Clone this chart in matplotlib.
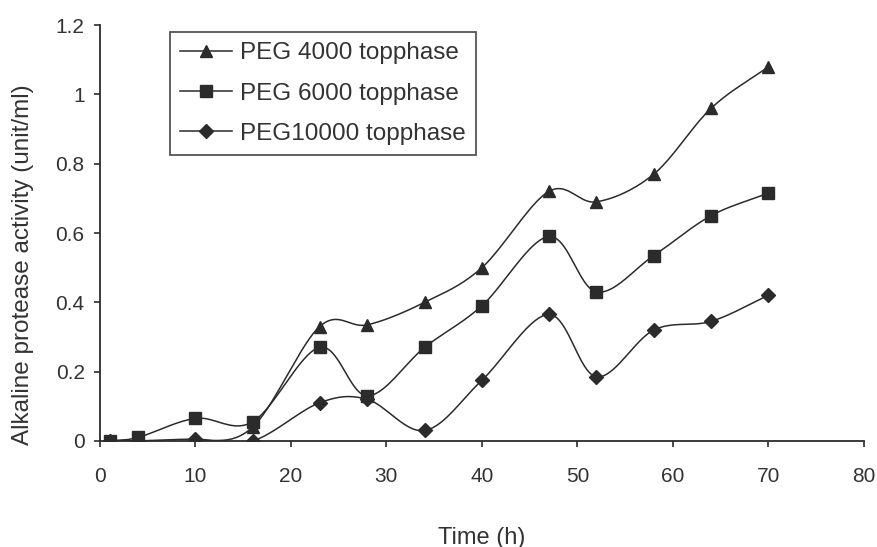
import numpy as np
import matplotlib
matplotlib.use("Agg")
import matplotlib.pyplot as plt

# sampling times (h)
time_h = [1, 4, 10, 16, 23, 28, 34, 40, 47, 52, 58, 64, 70]

# alkaline protease activity (unit/ml)
peg4000 = [0.0, 0.0, 0.0, 0.04, 0.33, 0.335, 0.40, 0.50, 0.72, 0.69, 0.77, 0.96, 1.08]
peg6000 = [0.0, 0.01, 0.065, 0.055, 0.27, 0.13, 0.27, 0.39, 0.59, 0.43, 0.535, 0.65, 0.715]
peg10000 = [0.0, 0.0, 0.005, 0.0, 0.11, 0.12, 0.03, 0.175, 0.365, 0.185, 0.32, 0.345, 0.42]

labels = ["PEG 4000 topphase", "PEG 6000 topphase", "PEG10000 topphase"]
markers = ["^", "s", "D"]
msizes = [9, 8, 7]

plt.rcParams['font.family'] = ['Liberation Sans', 'DejaVu Sans']
ink = "#2b2b2b"
txt = "#333333"


def smooth(x, y, n=20):
    # Catmull-Rom curve through the points, like Excel's smoothed line
    x = np.asarray(x, float)
    y = np.asarray(y, float)
    px = np.concatenate([[2 * x[0] - x[1]], x, [2 * x[-1] - x[-2]]])
    py = np.concatenate([[2 * y[0] - y[1]], y, [2 * y[-1] - y[-2]]])
    t = np.linspace(0, 1, n, endpoint=False)
    xs, ys = [], []
    for i in range(1, len(px) - 2):
        for arr, out in ((px, xs), (py, ys)):
            p0, p1, p2, p3 = arr[i - 1], arr[i], arr[i + 1], arr[i + 2]
            out.extend(0.5 * (2 * p1 + (-p0 + p2) * t
                              + (2 * p0 - 5 * p1 + 4 * p2 - p3) * t ** 2
                              + (-p0 + 3 * p1 - 3 * p2 + p3) * t ** 3))
    xs.append(x[-1])
    ys.append(y[-1])
    return np.array(xs), np.array(ys)


fig = plt.figure(figsize=(8.77, 5.47), dpi=100)
ax = fig.add_axes([0.114, 0.194, 0.871, 0.760])

handles = []
for ys, lab, m, ms in zip([peg4000, peg6000, peg10000], labels, markers, msizes):
    sx, sy = smooth(time_h, ys)
    ax.plot(sx, sy, color=ink, lw=1.1, zorder=2)
    ax.plot(time_h, ys, linestyle="none", marker=m, ms=ms, color=ink, zorder=3)
    h, = ax.plot([], [], color=ink, lw=1.1, marker=m, ms=ms, label=lab)
    handles.append(h)

ax.set_xlim(0, 80)
ax.set_ylim(0, 1.2)
ax.set_xticks(range(0, 81, 10))
ax.set_yticks([0, 0.2, 0.4, 0.6, 0.8, 1.0, 1.2])
ax.set_yticklabels(["0", "0.2", "0.4", "0.6", "0.8", "1", "1.2"])
ax.spines["top"].set_visible(False)
ax.spines["right"].set_visible(False)
for s in ("left", "bottom"):
    ax.spines[s].set_color(ink)
    ax.spines[s].set_linewidth(1.3)
ax.tick_params(direction="out", length=4, width=1.2, color=ink,
               labelsize=15, labelcolor=txt)
ax.tick_params(axis="x", pad=15)
ax.tick_params(axis="y", pad=7)

ax.set_xlabel("Time (h)", fontsize=17, color=txt, labelpad=29)
ax.set_ylabel("Alkaline protease activity (unit/ml)", fontsize=17.5,
              color=txt)
ax.yaxis.set_label_coords(-0.087, 0.423)

leg = ax.legend(handles=handles, loc="upper left", bbox_to_anchor=(0.092, 0.983),
                borderaxespad=0, fontsize=17.5, frameon=True, fancybox=False,
                handlelength=2.1, handletextpad=0.35, labelspacing=0.75,
                borderpad=0.42)
leg.get_frame().set_edgecolor(ink)
leg.get_frame().set_linewidth(1.3)
for t in leg.get_texts():
    t.set_color(txt)

fig.savefig("out.png", dpi=100)
